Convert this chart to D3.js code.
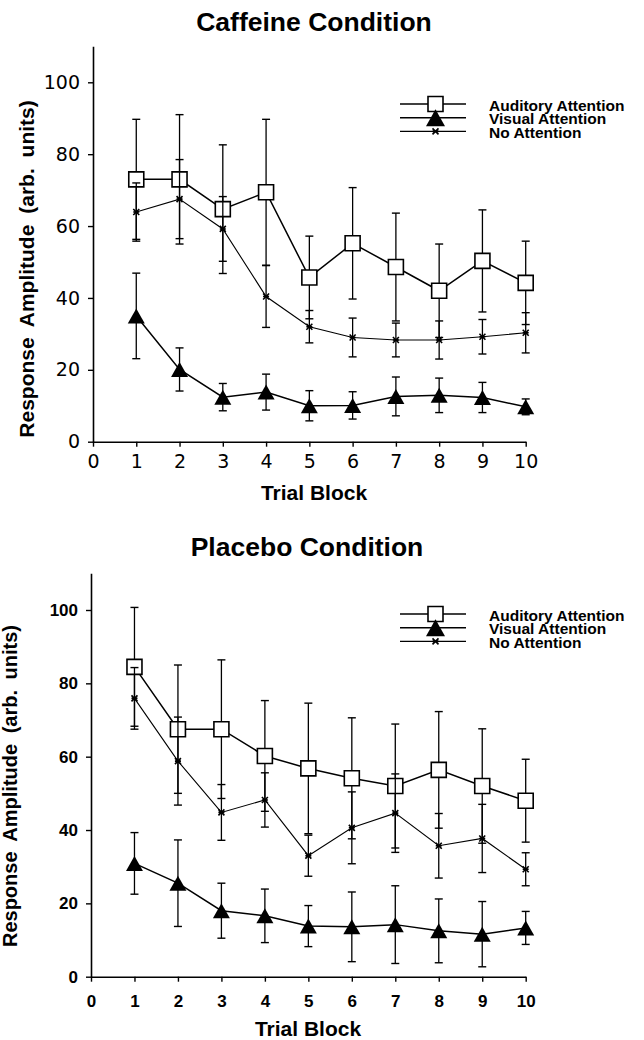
<!DOCTYPE html>
<html>
<head>
<meta charset="utf-8">
<script src="https://cdn.jsdelivr.net/npm/d3@7"></script>
<style>
  body { margin: 0; background: #fff; }
  svg { display: block; }
</style>
</head>
<body>
<div id="chart"></div>
<script>
// trial blocks on the x axis
const blocks = [1, 2, 3, 4, 5, 6, 7, 8, 9, 10]
const xTicks = [0, 1, 2, 3, 4, 5, 6, 7, 8, 9, 10]
const yTicks = [0, 20, 40, 60, 80, 100]
const seriesNames = ["Auditory Attention", "Visual Attention", "No Attention"]

// caffeine condition (mean and error bar half-length)
const cafAuditory = [73.0, 73.0, 64.7, 69.4, 45.7, 55.2, 48.6, 42.0, 50.3, 44.2]
const cafAuditoryErr = [16.7, 18.0, 17.9, 20.3, 11.5, 15.5, 15.0, 13.0, 14.2, 11.6]
const cafVisual = [35.0, 20.1, 12.4, 13.8, 10.0, 10.1, 12.6, 12.9, 12.3, 9.7]
const cafVisualErr = [11.9, 6.0, 3.8, 5.0, 4.2, 3.8, 5.4, 4.8, 4.2, 2.2]
const cafNone = [63.9, 67.5, 59.2, 40.4, 32.0, 29.0, 28.3, 28.3, 29.2, 30.3]
const cafNoneErr = [8.1, 11.0, 9.0, 8.6, 4.5, 5.4, 4.7, 5.3, 4.8, 5.6]

// placebo condition
const plaAuditory = [84.5, 67.5, 67.5, 60.2, 56.8, 54.1, 52.0, 56.4, 52.0, 48.0]
const plaAuditoryErr = [16.2, 17.5, 18.9, 15.1, 17.8, 16.5, 16.9, 15.9, 15.6, 11.3]
const plaVisual = [30.9, 25.5, 18.0, 16.6, 13.8, 13.6, 14.2, 12.5, 11.6, 13.3]
const plaVisualErr = [8.4, 11.8, 7.5, 7.3, 5.6, 9.5, 10.6, 8.7, 8.9, 4.5]
const plaNone = [75.9, 58.8, 44.8, 48.2, 33.0, 40.6, 44.6, 35.7, 37.7, 29.3]
const plaNoneErr = [8.4, 12.0, 7.6, 7.4, 5.6, 9.8, 10.7, 8.8, 9.3, 4.5]

const width = 644, height = 1040
const sans = "'Liberation Sans', Arial, Helvetica, sans-serif"

let svg = d3.select("#chart").append("svg")
  .attr("width", width)
  .attr("height", height)

// marker shapes
function squarePath(s) { return `M${-s/2},${-s/2}h${s}v${s}h${-s}Z` }
function trianglePath(w, h) { return `M0,${-h/2}L${w/2},${h/2}L${-w/2},${h/2}Z` }
function starPath(s) { return `M${-s},${-s}L${s},${s}M${-s},${s}L${s},${-s}M${-s},0H${s}` }

function drawMarker(g, type, big) {
  if (type == 0) {
    g.append("path").attr("d", squarePath(15))
      .attr("fill", "#fff").attr("stroke", "#000").attr("stroke-width", 1.6)
  } else if (type == 1) {
    g.append("path").attr("d", big ? trianglePath(19, 17) : trianglePath(17, 15)).attr("fill", "#000")
  } else {
    g.append("path").attr("d", starPath(3)).attr("fill", "none")
      .attr("stroke", "#000").attr("stroke-width", 1.6)
  }
}

function drawPanel(p) {
  let x = d3.scaleLinear().domain([0, 10]).range([p.left, 525.7])
  let y = d3.scaleLinear().domain([0, 110]).range([p.bottom, p.bottom - 110 * p.k])

  // title
  svg.append("text")
    .attr("x", p.titleX).attr("y", p.titleY)
    .attr("text-anchor", "middle")
    .style("font-family", sans).style("font-weight", "bold").style("font-size", "26.5px")
    .text(p.title)

  // axes
  let xAxis = svg.append("g")
    .attr("transform", `translate(0,${p.bottom})`)
    .call(d3.axisBottom(x).tickValues(xTicks).tickSize(5).tickSizeOuter(0).tickPadding(p.xPad))
  let yAxis = svg.append("g")
    .attr("transform", `translate(${p.left},0)`)
    .call(d3.axisLeft(y).tickValues(yTicks).tickSize(5).tickSizeOuter(0).tickPadding(p.yPad))
  for (let a of [xAxis, yAxis]) {
    a.select(".domain").attr("stroke-width", 1.6)
    a.selectAll(".tick line").attr("stroke-width", 1.4)
    a.selectAll(".tick text")
      .style("font-family", p.tickFont).style("font-weight", p.tickWeight)
      .style("font-size", p.tickSize).attr("fill", "#000")
  }

  // axis titles
  svg.append("text")
    .attr("x", p.xTitleX).attr("y", p.xTitleY)
    .attr("text-anchor", "middle")
    .style("font-family", sans).style("font-weight", "bold").style("font-size", "21px")
    .text("Trial Block")
  svg.append("text")
    .attr("transform", `translate(${p.yTitleX},${p.yTitleMid}) rotate(-90)`)
    .attr("text-anchor", "middle")
    .style("font-family", sans).style("font-weight", "bold").style("font-size", p.yTitleSize)
    .style("word-spacing", "5px")
    .text("Response Amplitude (arb. units)")

  // series: lines, error bars, markers
  p.series.forEach((s, i) => {
    let g = svg.append("g")
    let line = d3.line().x((d, j) => x(blocks[j])).y(d => y(d))
    g.append("path").datum(s.values)
      .attr("d", line).attr("fill", "none").attr("stroke", "#000")
      .attr("stroke-width", i == 2 ? 1.1 : 1.5)

    let bars = g.selectAll(".err").data(s.values).enter().append("g")
    bars.append("line")
      .attr("x1", (d, j) => x(blocks[j])).attr("x2", (d, j) => x(blocks[j]))
      .attr("y1", (d, j) => y(d + s.err[j])).attr("y2", (d, j) => y(d - s.err[j]))
      .attr("stroke", "#000").attr("stroke-width", 1.3)
    for (let sign of [1, -1]) {
      bars.append("line")
        .attr("x1", (d, j) => x(blocks[j]) - 4).attr("x2", (d, j) => x(blocks[j]) + 4)
        .attr("y1", (d, j) => y(d + sign * s.err[j])).attr("y2", (d, j) => y(d + sign * s.err[j]))
        .attr("stroke", "#000").attr("stroke-width", 1.4)
    }

    g.selectAll(".mark").data(s.values).enter().append("g")
      .attr("transform", (d, j) => `translate(${x(blocks[j])},${y(d)})`)
      .each(function() { drawMarker(d3.select(this), i, false) })
  })

  // legend
  seriesNames.forEach((name, i) => {
    let ly = p.legendY + i * 13.7
    svg.append("line")
      .attr("x1", 400).attr("x2", 466).attr("y1", ly).attr("y2", ly)
      .attr("stroke", "#000").attr("stroke-width", i == 2 ? 1.1 : 1.5)
    let m = svg.append("g").attr("transform", `translate(435.5,${ly})`)
    drawMarker(m, i, true)
  })
  seriesNames.forEach((name, i) => {
    svg.append("text")
      .attr("x", 489).attr("y", p.legendY + 6.8 + i * 13.5)
      .style("font-family", sans).style("font-weight", "bold").style("font-size", "15.5px")
      .text(name)
  })
}

drawPanel({
  title: "Caffeine Condition", titleX: 314, titleY: 31,
  left: 93, bottom: 441.7, k: 3.594,
  tickFont: "'DejaVu Sans', Verdana, sans-serif", tickWeight: "normal", tickSize: "19px",
  xPad: 8, yPad: 8,
  xTitleX: 314, xTitleY: 500, yTitleX: 34, yTitleMid: 269, yTitleSize: "21px",
  legendY: 104,
  series: [
    { values: cafAuditory, err: cafAuditoryErr },
    { values: cafVisual, err: cafVisualErr },
    { values: cafNone, err: cafNoneErr }
  ]
})

drawPanel({
  title: "Placebo Condition", titleX: 307, titleY: 556,
  left: 91, bottom: 976.7, k: 3.667,
  tickFont: sans, tickWeight: "bold", tickSize: "17px",
  xPad: 13, yPad: 8,
  xTitleX: 308, xTitleY: 1036, yTitleX: 17, yTitleMid: 786, yTitleSize: "20px",
  legendY: 614,
  series: [
    { values: plaAuditory, err: plaAuditoryErr },
    { values: plaVisual, err: plaVisualErr },
    { values: plaNone, err: plaNoneErr }
  ]
})
</script>
</body>
</html>
